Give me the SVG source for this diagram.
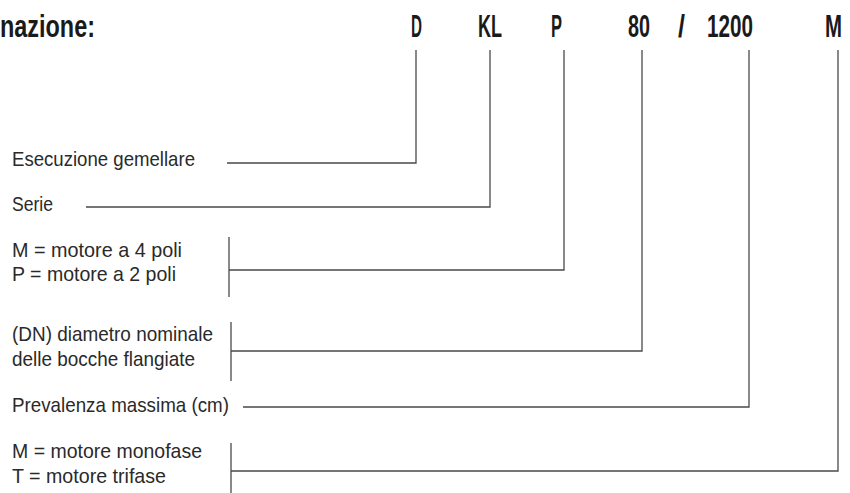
<svg xmlns="http://www.w3.org/2000/svg" width="850" height="493" viewBox="0 0 850 493">
<style>
.h{font-family:"Liberation Sans",Arial,sans-serif;font-weight:bold;font-size:31px;fill:#1a1a1a}
.t{font-family:"Liberation Sans",Arial,sans-serif;font-size:21px;fill:#2a2a2a}
.c{stroke:#4a4a4a;stroke-width:1.3;fill:none}
</style>
<rect width="850" height="493" fill="#ffffff"/>
<g id="title">
<text class="h" x="0" y="37" textLength="95" lengthAdjust="spacingAndGlyphs">nazione:</text>
</g>
<g id="code">
<text class="h" x="411" y="37" textLength="11" lengthAdjust="spacingAndGlyphs">D</text>
<text class="h" x="478" y="37" textLength="24" lengthAdjust="spacingAndGlyphs">KL</text>
<text class="h" x="551" y="37" textLength="11" lengthAdjust="spacingAndGlyphs">P</text>
<text class="h" x="628" y="37" textLength="22" lengthAdjust="spacingAndGlyphs">80</text>
<text class="h" x="678" y="37" textLength="7" lengthAdjust="spacingAndGlyphs">/</text>
<text class="h" x="707" y="37" textLength="46" lengthAdjust="spacingAndGlyphs">1200</text>
<text class="h" x="825" y="37" textLength="17" lengthAdjust="spacingAndGlyphs">M</text>
</g>
<g id="n-gemellare">
<text class="t" x="12" y="166" textLength="183" lengthAdjust="spacingAndGlyphs">Esecuzione gemellare</text>
</g>
<g id="n-serie">
<text class="t" x="12" y="211" textLength="41" lengthAdjust="spacingAndGlyphs">Serie</text>
</g>
<g id="n-poli">
<text class="t" x="12" y="257" textLength="170" lengthAdjust="spacingAndGlyphs">M = motore a 4 poli</text>
<text class="t" x="12" y="281" textLength="164" lengthAdjust="spacingAndGlyphs">P = motore a 2 poli</text>
</g>
<g id="n-dn">
<text class="t" x="12" y="341" textLength="201" lengthAdjust="spacingAndGlyphs">(DN) diametro nominale</text>
<text class="t" x="12" y="366" textLength="183" lengthAdjust="spacingAndGlyphs">delle bocche flangiate</text>
</g>
<g id="n-prevalenza">
<text class="t" x="12" y="412" textLength="217" lengthAdjust="spacingAndGlyphs">Prevalenza massima (cm)</text>
</g>
<g id="n-fase">
<text class="t" x="12" y="458" textLength="190" lengthAdjust="spacingAndGlyphs">M = motore monofase</text>
<text class="t" x="12" y="483" textLength="154" lengthAdjust="spacingAndGlyphs">T = motore trifase</text>
</g>
<g id="connectors">
<polyline class="c" points="227,163 416,163 416,50"/>
<polyline class="c" points="86,207 490,207 490,50"/>
<line class="c" x1="229" y1="237" x2="229" y2="297"/>
<polyline class="c" points="229,270 564,270 564,50"/>
<line class="c" x1="231" y1="322" x2="231" y2="381"/>
<polyline class="c" points="231,351 642,351 642,50"/>
<polyline class="c" points="243,407 749,407 749,50"/>
<line class="c" x1="231" y1="443" x2="231" y2="493"/>
<polyline class="c" points="231,471 838,471 838,50"/>
</g>
</svg>
